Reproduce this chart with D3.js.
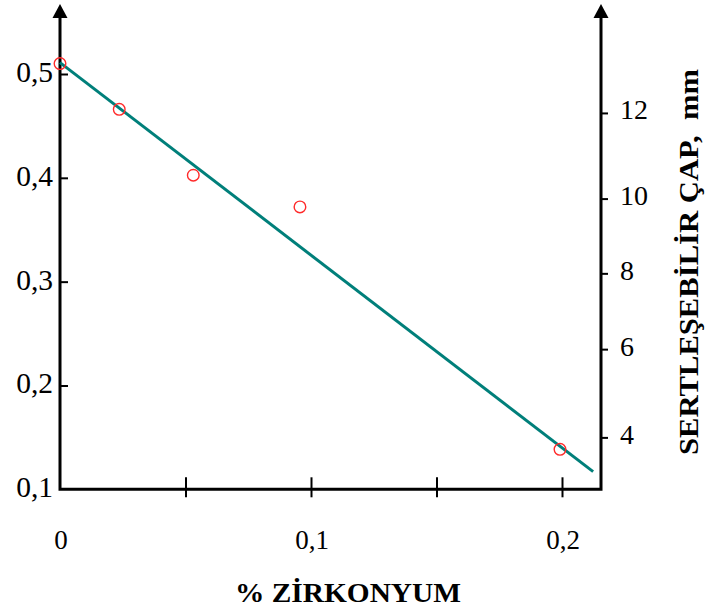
<!DOCTYPE html>
<html>
<head>
<meta charset="utf-8">
<script src="https://cdn.jsdelivr.net/npm/d3@7"></script>
<style>
  html, body { margin: 0; padding: 0; background: #fff; }
  svg { display: block; font-family: "Liberation Serif", "Times New Roman", serif; }
  .title { white-space: pre; }
</style>
</head>
<body>
<svg id="chart" width="705" height="613"></svg>
<script>
// Zirconium content (%) and measured values
const zirconium = [0, 0.0236, 0.0531, 0.0956, 0.1992];
const measured  = [0.510, 0.466, 0.4025, 0.372, 0.1385];

// Fitted straight line, endpoints in data units
const fitX = [0, 0.2124];
const fitY = [0.511, 0.117];

// Tick labels
const xTicks = [0, 0.05, 0.1, 0.15, 0.2];
const xTickLabels = ["0", "", "0,1", "", "0,2"];
const leftTicks = [0.1, 0.2, 0.3, 0.4, 0.5];
const leftTickLabels = ["0,1", "0,2", "0,3", "0,4", "0,5"];

// Right axis: hardenable diameter (mm) and the left-axis value each corresponds to
const rightTicks = [4, 6, 8, 10, 12];
const rightEquivalent = [0.150, 0.235, 0.308, 0.380, 0.4625];

const xTitle = "% ZİRKONYUM";
const rightTitle = "SERTLEŞEBİLİR ÇAP,  mm";

const svg = d3.select("#chart");

const x = d3.scaleLinear().domain([0, 0.2]).range([60, 562]);
const y = d3.scaleLinear().domain([0.1, 0.5]).range([489.3, 74]);
const yRight = d3.scaleLinear().domain(rightTicks).range(rightEquivalent.map(y));

const xLeft = x(0);
const xRightAxis = 601;
const yBottom = y(0.1);
const arrowTop = 4;

const ink = "#000";

// Bottom axis with ticks crossing the line
const gx = svg.append("g")
  .attr("transform", `translate(0,${yBottom})`)
  .call(d3.axisBottom(x).tickValues(xTicks.slice(1)).tickFormat("").tickSizeOuter(0));
gx.select(".domain").remove();
gx.selectAll(".tick line").attr("y1", -12).attr("y2", 8).attr("stroke", ink).attr("stroke-width", 2);

svg.append("g").selectAll("text")
  .data(xTicks.map((v, i) => ({ v, label: xTickLabels[i] })).filter(d => d.label))
  .join("text")
  .attr("x", d => x(d.v) + 1)
  .attr("y", yBottom + 59.5)
  .attr("text-anchor", "middle")
  .attr("font-size", 27)
  .attr("fill", ink)
  .text(d => d.label);

// Left axis: ticks pointing inward
const gl = svg.append("g")
  .attr("transform", `translate(${xLeft},0)`)
  .call(d3.axisRight(y).tickValues(leftTicks.slice(1)).tickFormat("").tickSizeInner(8).tickSizeOuter(0));
gl.select(".domain").remove();
gl.selectAll(".tick line").attr("stroke", ink).attr("stroke-width", 2);

svg.append("g").selectAll("text")
  .data(leftTicks.map((v, i) => ({ v, label: leftTickLabels[i] })))
  .join("text")
  .attr("x", xLeft - 7)
  .attr("y", d => y(d.v) + 8)
  .attr("text-anchor", "end")
  .attr("font-size", 29.5)
  .attr("fill", ink)
  .text(d => d.label);

// Right axis: ticks pointing outward
const gr = svg.append("g")
  .attr("transform", `translate(${xRightAxis},0)`)
  .call(d3.axisRight(yRight).tickValues(rightTicks).tickFormat("").tickSizeInner(7).tickSizeOuter(0));
gr.select(".domain").remove();
gr.selectAll(".tick line").attr("stroke", ink).attr("stroke-width", 2);

svg.append("g").selectAll("text")
  .data(rightTicks)
  .join("text")
  .attr("x", xRightAxis + 19)
  .attr("y", d => yRight(d) + 6.5)
  .attr("font-size", 28)
  .attr("fill", ink)
  .text(d => String(d));

// Axis lines with arrowheads
svg.append("path")
  .attr("d", `M${xLeft},${arrowTop + 12} V${yBottom} H${xRightAxis} V${arrowTop + 12}`)
  .attr("fill", "none")
  .attr("stroke", ink)
  .attr("stroke-width", 3)
  .attr("stroke-linejoin", "miter");

[xLeft, xRightAxis].forEach(ax => {
  svg.append("path")
    .attr("d", `M${ax},${arrowTop} L${ax - 7.5},${arrowTop + 14} L${ax + 7.5},${arrowTop + 14} Z`)
    .attr("fill", ink);
});

// Fitted line
svg.append("path")
  .datum(fitX.map((v, i) => [v, fitY[i]]))
  .attr("d", d3.line().x(d => x(d[0])).y(d => y(d[1])))
  .attr("fill", "none")
  .attr("stroke", "#007f7a")
  .attr("stroke-width", 3);

// Measured points
svg.append("g").selectAll("circle")
  .data(zirconium.map((v, i) => [v, measured[i]]))
  .join("circle")
  .attr("cx", d => x(d[0]))
  .attr("cy", d => y(d[1]))
  .attr("r", 5.8)
  .attr("fill", "none")
  .attr("stroke", "#ff2a2a")
  .attr("stroke-width", 1.4);

// Axis titles
svg.append("text")
  .attr("class", "title")
  .attr("x", 348)
  .attr("y", 602)
  .attr("text-anchor", "middle")
  .attr("font-size", 28)
  .attr("font-weight", "bold")
  .attr("textLength", 226)
  .attr("lengthAdjust", "spacingAndGlyphs")
  .attr("fill", ink)
  .text(xTitle);

svg.append("text")
  .attr("class", "title")
  .attr("transform", `translate(698,262) rotate(-90)`)
  .attr("text-anchor", "middle")
  .attr("font-size", 27)
  .attr("font-weight", "bold")
  .attr("textLength", 386)
  .attr("lengthAdjust", "spacingAndGlyphs")
  .attr("fill", ink)
  .text(rightTitle);
</script>
</body>
</html>
